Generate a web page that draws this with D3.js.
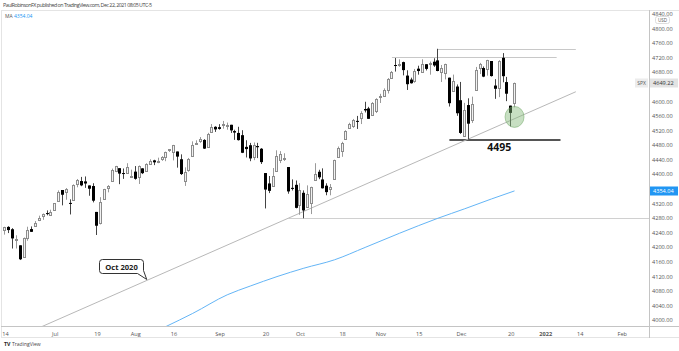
<!DOCTYPE html>
<html>
<head>
<meta charset="utf-8">
<script src="https://cdn.jsdelivr.net/npm/d3@7"></script>
<style>
  body { margin: 0; background: #fff; }
  svg { display: block; }
  text { font-family: "Open Sans", sans-serif; }
</style>
</head>
<body>
<div id="chart"></div>
<script>
// SPX daily, Jun 14 - Dec 21 2021 (one value per trading day, month by month)
const opens = [
  4248.3,4255.3,4248.9,4220.4,4204.8,4173.4,4224.6,4249.3,4257.0,4274.5,4284.9,4293.2,4290.6,
  4300.7,4326.6,4356.5,4351.0,4321.1,4329.4,4372.4,4381.1,4380.1,4369.0,4367.4,4296.4,4265.1,4331.1,4361.3,4381.2,4409.6,4416.4,4403.0,4403.6,4395.1,
  4406.9,4392.7,4415.9,4408.9,4429.1,4437.8,4435.8,4442.2,4446.1,4464.8,4461.7,4462.1,4440.9,4382.4,4410.6,4450.3,4484.4,4490.5,4493.8,4474.1,4513.8,4529.8,
  4528.8,4534.5,4532.4,4535.4,4518.1,4513.0,4506.9,4474.8,4479.3,4447.5,4477.1,4469.7,4403.0,4374.5,4367.4,4406.8,4438.0,4442.1,4419.5,4362.4,4370.7,
  4317.2,4348.8,4309.9,4319.6,4383.7,4406.5,4385.4,4368.3,4358.0,4386.8,4447.7,4463.7,4497.3,4524.4,4532.2,4546.1,4553.7,4578.7,4580.2,4562.8,4572.9,
  4610.6,4613.3,4630.7,4662.9,4699.3,4701.5,4707.3,4670.3,4659.4,4655.2,4689.3,4679.4,4701.5,4700.7,4708.4,4712.0,4678.5,4675.8,4664.6,4628.8,4640.3,
  4602.8,4504.7,4589.5,4548.4,4632.0,4690.9,4691.0,4687.6,4710.3,4643.0,4636.5,4719.1,4652.5,4587.9,4595.0
];
const highs = [
  4255.6,4257.2,4251.9,4232.3,4204.8,4226.2,4255.8,4256.6,4271.3,4286.1,4292.1,4300.5,4302.4,
  4320.7,4355.4,4356.5,4361.9,4330.9,4372.0,4386.7,4392.4,4393.7,4369.0,4375.1,4296.4,4336.8,4359.7,4369.9,4415.2,4422.7,4416.4,4415.5,4430.0,4412.3,
  4422.2,4423.8,4416.2,4429.8,4440.8,4439.4,4445.2,4449.4,4461.8,4468.0,4480.3,4462.1,4454.3,4418.6,4444.4,4489.9,4492.8,4501.7,4495.9,4513.3,4537.4,4531.4,
  4537.1,4545.9,4541.4,4535.4,4521.8,4529.9,4520.5,4493.0,4485.7,4486.9,4485.9,4471.5,4403.0,4394.9,4416.8,4465.4,4463.1,4457.3,4419.5,4385.6,4382.6,
  4375.2,4355.5,4369.2,4365.6,4430.0,4412.0,4415.9,4374.9,4372.9,4439.7,4475.8,4488.8,4520.4,4540.9,4551.4,4559.7,4572.6,4598.5,4584.6,4597.6,4608.1,
  4620.3,4635.2,4663.5,4683.0,4718.5,4714.9,4708.5,4684.9,4664.6,4688.5,4697.4,4715.0,4701.5,4708.8,4717.8,4743.8,4699.4,4702.9,4664.6,4673.0,4646.0,
  4652.9,4595.5,4608.0,4612.6,4694.0,4705.1,4695.3,4713.6,4710.3,4660.5,4712.6,4732.0,4666.7,4587.9,4651.1
];
const lows = [
  4234.1,4238.4,4196.0,4196.1,4164.4,4173.4,4217.3,4241.4,4257.0,4271.2,4274.7,4287.0,4288.0,
  4300.7,4326.6,4314.4,4329.8,4289.4,4329.4,4364.0,4366.9,4362.4,4340.7,4322.5,4233.1,4262.1,4331.1,4350.1,4381.2,4405.5,4372.5,4387.0,4403.6,4389.9,
  4384.8,4373.0,4400.2,4408.9,4429.1,4424.7,4430.0,4436.4,4435.5,4460.8,4437.7,4417.8,4397.6,4367.7,4406.8,4450.3,4482.3,4485.7,4469.0,4474.1,4513.8,4515.8,
  4522.0,4524.7,4521.9,4513.0,4494.0,4492.1,4457.7,4445.7,4435.5,4438.4,4444.0,4427.8,4305.9,4348.0,4367.4,4406.8,4430.3,4436.2,4346.3,4355.1,4306.2,
  4288.5,4278.9,4309.9,4290.5,4383.7,4386.2,4360.6,4342.1,4342.0,4386.8,4447.7,4447.5,4496.4,4524.4,4526.9,4524.0,4537.4,4569.2,4551.7,4562.8,4567.6,
  4595.1,4613.3,4621.2,4662.6,4681.3,4694.4,4670.9,4630.9,4648.3,4650.6,4672.9,4679.4,4684.4,4672.8,4694.2,4682.2,4652.7,4659.9,4585.4,4625.3,4560.0,
  4510.3,4504.7,4495.1,4540.5,4632.0,4674.5,4666.0,4670.2,4667.6,4606.5,4611.2,4651.9,4600.2,4531.1,4583.2
];
const closes = [
  4255.2,4246.6,4223.7,4221.9,4166.5,4224.8,4246.4,4241.8,4266.5,4280.7,4290.6,4291.8,4297.5,
  4319.9,4352.3,4343.5,4358.1,4320.8,4369.6,4384.6,4369.2,4374.3,4360.0,4327.2,4258.5,4323.1,4358.7,4367.5,4411.8,4422.3,4401.5,4400.6,4419.2,4395.3,
  4387.2,4423.2,4402.7,4429.1,4436.5,4432.4,4436.8,4447.7,4460.8,4468.0,4479.7,4448.1,4400.3,4405.8,4441.7,4479.5,4486.2,4496.2,4470.0,4509.4,4528.8,4522.7,
  4524.1,4537.0,4535.4,4520.0,4514.1,4493.3,4458.6,4468.7,4443.1,4480.7,4473.8,4433.0,4357.7,4354.2,4395.6,4449.0,4455.5,4443.1,4352.6,4359.5,4307.5,
  4357.0,4300.5,4345.7,4363.6,4399.8,4391.3,4361.2,4350.7,4363.8,4438.3,4471.4,4486.5,4519.6,4536.2,4549.8,4544.9,4566.5,4574.8,4551.7,4596.4,4605.4,
  4613.7,4630.7,4660.6,4680.1,4697.5,4701.7,4685.3,4646.7,4649.3,4682.9,4682.8,4700.9,4688.7,4704.5,4698.0,4682.9,4690.7,4701.5,4594.6,4655.3,4567.0,
  4513.0,4577.1,4538.4,4591.7,4686.8,4701.2,4667.5,4712.0,4669.0,4634.1,4709.9,4668.7,4620.6,4568.0,4649.22
];

// 200-day moving average
const maDates  = ["2021-08-05","2021-08-12","2021-08-23","2021-09-03","2021-09-14","2021-09-23","2021-10-04",
                  "2021-10-14","2021-10-26","2021-11-08","2021-11-22","2021-12-02","2021-12-13","2021-12-21"];
const maValues = [3957,3982,4018,4069,4093,4119,4142,4165,4199,4238,4279,4305,4332,4354.04];

// drawn levels
const trendDates = ["2021-06-25","2022-01-13"], trendValues = [3979, 4626];
const levels = [
  {from: "2021-11-22", to: "2022-01-13", value: 4744, color: "#c8c8c8", w: 1},
  {from: "2021-11-04", to: "2022-01-06", value: 4720, color: "#c8c8c8", w: 1},
  {from: "2021-09-28", to: null,         value: 4279, color: "#d0d0d0", w: 1},
  {from: "2021-11-26", to: "2022-01-07", value: 4495, color: "#555555", w: 2}
];

// 4360 and 4640 sit under the price badges, so they are not shown
const priceTicks = [4000,4040,4080,4120,4160,4200,4240,4280,4320,4400,4440,4480,4520,4560,4600,4680,4720,4760,4800,4840];
const tickLabels = ["14","Jul","19","Aug","16","Sep","20","Oct","18","Nov","15","Dec","20","2022","14","Feb"];
const tickDates  = ["2021-06-14","2021-07-01","2021-07-19","2021-08-02","2021-08-16","2021-09-01","2021-09-20","2021-10-01",
                    "2021-10-18","2021-11-01","2021-11-15","2021-12-01","2021-12-20","2022-01-03","2022-01-14","2022-02-01"];
const holidays = ["2021-07-05","2021-09-06","2021-11-25","2021-12-24","2022-01-17"];

// trading-day calendar -> bar index
const fmt = d3.timeFormat("%Y-%m-%d");
const days = [];
for (let d = new Date(2021, 5, 14); days.length < 180; d = d3.timeDay.offset(d, 1)) {
  const wd = d.getDay();
  if (wd === 0 || wd === 6 || holidays.includes(fmt(d))) continue;
  days.push(fmt(d));
}
const idx = s => days.indexOf(s);

const W = 679, H = 351;
const plot = {left: 2, right: 649, top: 10, bottom: 326};

const x = d3.scaleLinear().domain([-0.78, 168.1]).range([plot.left, plot.right]);
const y = d3.scaleLinear().domain([3983.5, 4850.2]).range([plot.bottom, plot.top]);

const svg = d3.select("#chart").append("svg").attr("width", W).attr("height", H);
svg.append("rect").attr("width", W).attr("height", H).attr("fill", "#fff");

svg.append("clipPath").attr("id", "clip").append("rect")
  .attr("x", plot.left).attr("y", plot.top)
  .attr("width", plot.right - plot.left).attr("height", plot.bottom - plot.top);

// header
svg.append("text").attr("x", 3).attr("y", 7)
  .attr("font-size", 5.3).attr("fill", "#444").attr("textLength", 149)
  .text("PaulRobinsonFX published on TradingView.com, Dec 22, 2021 08:05 UTC-5");

// frame
svg.append("rect").attr("x", 1.5).attr("y", 10.5).attr("width", W - 1).attr("height", 327)
  .attr("fill", "none").attr("stroke", "#e4e4e4");
svg.append("line").attr("x1", 1).attr("x2", W).attr("y1", plot.bottom + 0.5).attr("y2", plot.bottom + 0.5)
  .attr("stroke", "#c4c4c4");
svg.append("line").attr("x1", plot.right + 0.5).attr("x2", plot.right + 0.5).attr("y1", 10).attr("y2", 338)
  .attr("stroke", "#c4c4c4");

const g = svg.append("g").attr("clip-path", "url(#clip)");

// horizontal levels
levels.forEach(l => {
  g.append("line")
    .attr("x1", x(idx(l.from))).attr("x2", l.to ? x(idx(l.to)) : plot.right)
    .attr("y1", Math.round(y(l.value)) + (l.w === 1 ? 0.5 : 0))
    .attr("y2", Math.round(y(l.value)) + (l.w === 1 ? 0.5 : 0))
    .attr("stroke", l.color).attr("stroke-width", l.w);
});

// trend line
g.append("line")
  .attr("x1", x(idx(trendDates[0]))).attr("y1", y(trendValues[0]))
  .attr("x2", x(idx(trendDates[1]))).attr("y2", y(trendValues[1]))
  .attr("stroke", "#b8b8b8").attr("stroke-width", 1);

// moving average
g.append("path")
  .datum(maDates.map((d, i) => [idx(d), maValues[i]]))
  .attr("fill", "none").attr("stroke", "#64b5f6").attr("stroke-width", 1)
  .attr("d", d3.line().x(d => x(d[0])).y(d => y(d[1])).curve(d3.curveMonotoneX));

// candles
const candles = opens.map((o, i) => ({i, o, h: highs[i], l: lows[i], c: closes[i]}));
const cg = g.append("g");
candles.forEach(d => {
  const cx = Math.floor(x(d.i));
  const up = d.c >= d.o;
  cg.append("line")
    .attr("x1", cx + 0.5).attr("x2", cx + 0.5)
    .attr("y1", y(d.h)).attr("y2", y(d.l))
    .attr("stroke", up ? "#9a9a9a" : "#444");
  const top = y(Math.max(d.o, d.c)), bot = y(Math.min(d.o, d.c));
  if (up) {
    cg.append("rect")
      .attr("x", cx - 0.5).attr("y", Math.round(top) + 0.5)
      .attr("width", 2).attr("height", Math.max(1, Math.round(bot - top)))
      .attr("fill", "#f2f2f2").attr("stroke", "#8c8c8c");
  } else {
    cg.append("rect")
      .attr("x", cx - 1).attr("y", top)
      .attr("width", 3).attr("height", Math.max(1, bot - top))
      .attr("fill", "#000");
  }
});

// green highlight
g.append("ellipse")
  .attr("cx", x(idx("2021-12-21"))).attr("cy", y(4557))
  .attr("rx", 9.5).attr("ry", 10.5)
  .attr("fill", "rgba(130,185,120,0.45)").attr("stroke", "rgba(110,165,100,0.5)");

// 4495 label
svg.append("text").attr("x", x(idx("2021-12-15"))).attr("y", y(4495) + 11.5)
  .attr("text-anchor", "middle").attr("font-size", 10.5).attr("font-weight", 700)
  .attr("fill", "#111").text("4495");

// Oct 2020 callout
const tip = [x(idx("2021-08-05")), y(trendValues[0]) + (y(trendValues[1]) - y(trendValues[0])) *
  (idx("2021-08-05") - idx(trendDates[0])) / (idx(trendDates[1]) - idx(trendDates[0]))];
const bx = 99.5, by = 259.5, bw = 44, bh = 14, r = 3;
svg.append("path")
  .attr("d", `M${bx + r},${by} H${bx + bw - r} Q${bx + bw},${by} ${bx + bw},${by + r} V${by + bh - 3}
    L${tip[0]},${tip[1] - 1} L${bx + bw - 6},${by + bh} H${bx + r} Q${bx},${by + bh} ${bx},${by + bh - r}
    V${by + r} Q${bx},${by} ${bx + r},${by} Z`)
  .attr("fill", "#fff").attr("stroke", "#333").attr("stroke-width", 1);
svg.append("text").attr("x", bx + bw / 2).attr("y", by + 10)
  .attr("text-anchor", "middle").attr("font-size", 7.6).attr("font-weight", 700)
  .attr("fill", "#222").text("Oct 2020");

// MA legend
svg.append("text").attr("x", 5).attr("y", 18).attr("font-size", 5).attr("fill", "#555").text("MA");
svg.append("text").attr("x", 14).attr("y", 18).attr("font-size", 5).attr("fill", "#2196f3").text("4354.04");

// price axis
const ya = svg.append("g").attr("transform", `translate(${plot.right},0)`)
  .call(d3.axisRight(y).tickValues(priceTicks).tickSize(0).tickPadding(3).tickFormat(d3.format(".2f")));
ya.select(".domain").remove();
ya.selectAll("text").attr("font-size", 5.6).attr("fill", "#555").attr("font-family", "Open Sans, sans-serif");

// time axis
const xa = svg.append("g").attr("transform", `translate(0,${plot.bottom})`)
  .call(d3.axisBottom(x).tickValues(tickDates.map(idx)).tickSize(0).tickPadding(6)
    .tickFormat((d, i) => tickLabels[i]));
xa.select(".domain").remove();
xa.selectAll("text").attr("font-size", 5.6).attr("fill", "#555").attr("font-family", "Open Sans, sans-serif")
  .attr("font-weight", (d, i) => tickLabels[i] === "2022" ? 700 : 400);

// axis badges
function badge(yv, label, fill, color) {
  const yy = Math.round(y(yv));
  svg.append("rect").attr("x", plot.right + 1).attr("y", yy - 4.5).attr("width", 28).attr("height", 9).attr("fill", fill);
  svg.append("text").attr("x", plot.right + 4).attr("y", yy + 2).attr("font-size", 5.6).attr("fill", color).text(label);
}
badge(4354.04, "4354.04", "#2196f3", "#fff");
badge(closes[closes.length - 1], "4649.22", "#e3e3e3", "#333");
svg.append("rect").attr("x", 635).attr("y", Math.round(y(4649.22)) - 4.5).attr("width", 13).attr("height", 9).attr("fill", "#ececec");
svg.append("text").attr("x", 641.5).attr("y", Math.round(y(4649.22)) + 2).attr("text-anchor", "middle")
  .attr("font-size", 5).attr("fill", "#555").text("SPX");

// USD tag
svg.append("rect").attr("x", 655.5).attr("y", 16.5).attr("width", 14).attr("height", 7).attr("rx", 2)
  .attr("fill", "#fff").attr("stroke", "#ddd");
svg.append("text").attr("x", 662.5).attr("y", 21.8).attr("text-anchor", "middle")
  .attr("font-size", 4.6).attr("fill", "#555").text("USD");

// footer logo
svg.append("text").attr("x", 4).attr("y", 346).attr("font-size", 5.2).attr("font-weight", 700).attr("fill", "#222").text("TV");
svg.append("text").attr("x", 12).attr("y", 346).attr("font-size", 5).attr("fill", "#444").text("TradingView");
</script>
</body>
</html>
